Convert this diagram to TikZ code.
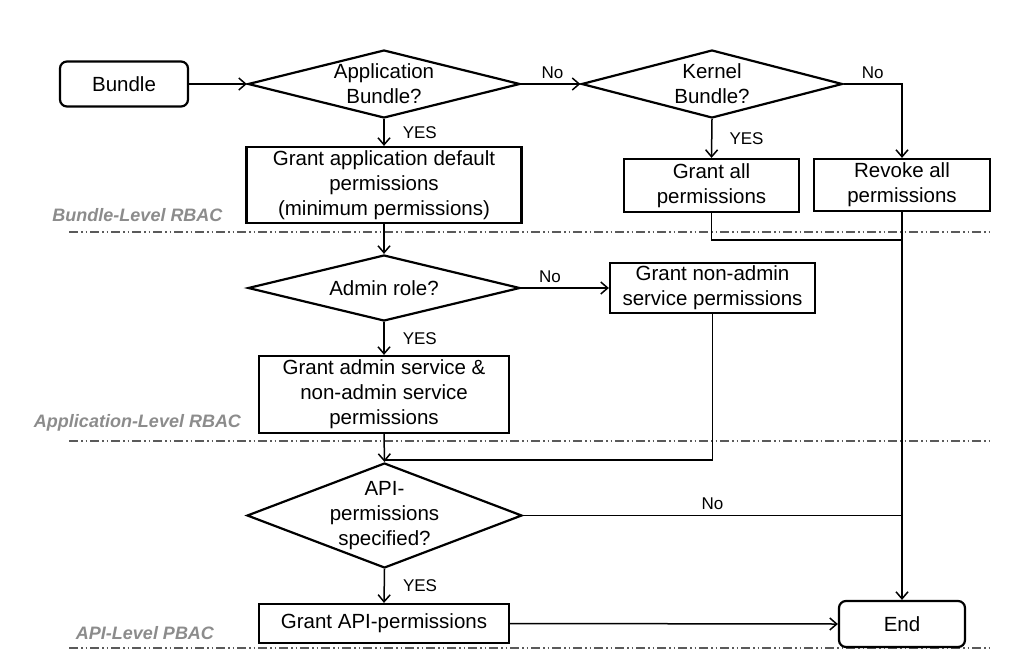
\documentclass[tikz,border=0pt]{standalone}
\usepackage{fontspec}
\setmainfont{Liberation Sans}
\usetikzlibrary{shapes.geometric,arrows.meta}
\definecolor{levelgrey}{RGB}{140,140,140}
\definecolor{sepgrey}{RGB}{90,90,90}
\begin{document}
\begin{tikzpicture}[x=1pt,y=-1pt,
  font=\fontsize{20.5}{25}\selectfont,
  box/.style={draw, line width=2.2pt, inner sep=0pt, align=center},
  rbox/.style={box, rounded corners=7pt},
  dia/.style={draw, diamond, line width=2.2pt, inner sep=0pt},
  dlabel/.style={align=center, inner sep=0pt},
  conn/.style={line width=1.5pt},
  arr/.style={conn, -{Straight Barb[length=7pt,width=12pt,line width=1.5pt]}},
  lbl/.style={font=\fontsize{17}{20}\selectfont, inner sep=0pt},
  layer/.style={font=\fontsize{18}{20}\selectfont\bfseries\itshape, text=levelgrey, inner sep=0pt},
  sep/.style={draw=sepgrey, line width=1.5pt, dash pattern=on 9pt off 3pt on 1.5pt off 3pt on 1.5pt off 3pt}
]
\useasboundingbox (0,0) rectangle (1036,667);

% layer separators
\draw[sep] (69,232) -- (990,232);
\draw[sep] (69,441) -- (990,441);
\draw[sep] (69,648) -- (990,648);

% layer labels
\node[layer] (l1) at (137.5,215) {Bundle-Level RBAC};
\node[layer] (l2) at (137.5,423) {Application-Level RBAC};
\node[layer] (l3) at (145,633) {API-Level PBAC};

% nodes
\node[rbox, minimum width=128pt, minimum height=45pt] (bundle) at (124,84) {Bundle};
\node[dia, minimum width=272pt, minimum height=68pt,
  label={[dlabel]center:{Application\\Bundle?}}] (app) at (384,84) {};
\node[dia, minimum width=261pt, minimum height=68pt,
  label={[dlabel]center:{Kernel\\Bundle?}}] (ker) at (712,84) {};
\node[box, minimum width=275pt, minimum height=76pt] (gdef) at (384,185)
  {Grant application default\\permissions\\(minimum permissions)};
\node[box, minimum width=175pt, minimum height=53pt] (gall) at (711.5,185.5)
  {Grant all\\permissions};
\node[box, minimum width=176pt, minimum height=52pt] (rev) at (902,185)
  {Revoke all\\permissions};
\node[dia, minimum width=272pt, minimum height=66pt,
  label={[dlabel]center:{Admin role?}}] (adm) at (384,288) {};
\node[box, minimum width=205pt, minimum height=50pt] (gna) at (712.5,288)
  {Grant non-admin\\service permissions};
\node[box, minimum width=250pt, minimum height=77pt] (gadm) at (384,394.5)
  {Grant admin service \&\\non-admin service\\permissions};
\node[dia, minimum width=275pt, minimum height=105pt,
  label={[dlabel]center:{API-\\permissions\\specified?}}] (api) at (384.5,515.5) {};
\node[box, minimum width=250pt, minimum height=39pt] (gapi) at (384,623.5)
  {Grant API-permissions};
\node[rbox, minimum width=126pt, minimum height=46pt] (end) at (902,624) {End};

% connectors
\coordinate (j1) at (902,240);
\coordinate (j2) at (384,460);
\coordinate (j3) at (902,515.5);

\draw[arr] (bundle.east) -- (app.west);
\draw[arr] (app.east) -- node[lbl, pos=0.53, above=5pt] {No} (ker.west);
\draw[arr] (app.south) -- node[lbl, right=18pt] {YES} (gdef.north);
\draw[arr] (ker.south) -- node[lbl, right=17pt] {YES} (gall.north);
\draw[arr] (ker.east) -| node[lbl, pos=0.25, above=5pt] {No} (rev.north);
\draw[conn] (gall.south) |- (j1);
\draw[arr] (rev.south) -- (end.north);
\draw[arr] (gdef.south) -- (adm.north);
\draw[arr] (adm.east) -- node[lbl, pos=0.33, above=5pt] {No} (gna.west);
\draw[arr] (adm.south) -- node[lbl, right=18pt] {YES} (gadm.north);
\draw[arr] (gadm.south) -- (api.north);
\draw[conn] (gna.south) |- (j2);
\draw[conn] (api.east) -- node[lbl, pos=0.5, above=5pt] {No} (j3);
\draw[arr] (api.south) -- node[lbl, right=18pt] {YES} (gapi.north);
\draw[arr] (gapi.east) -- (end.west);
\end{tikzpicture}
\end{document}
